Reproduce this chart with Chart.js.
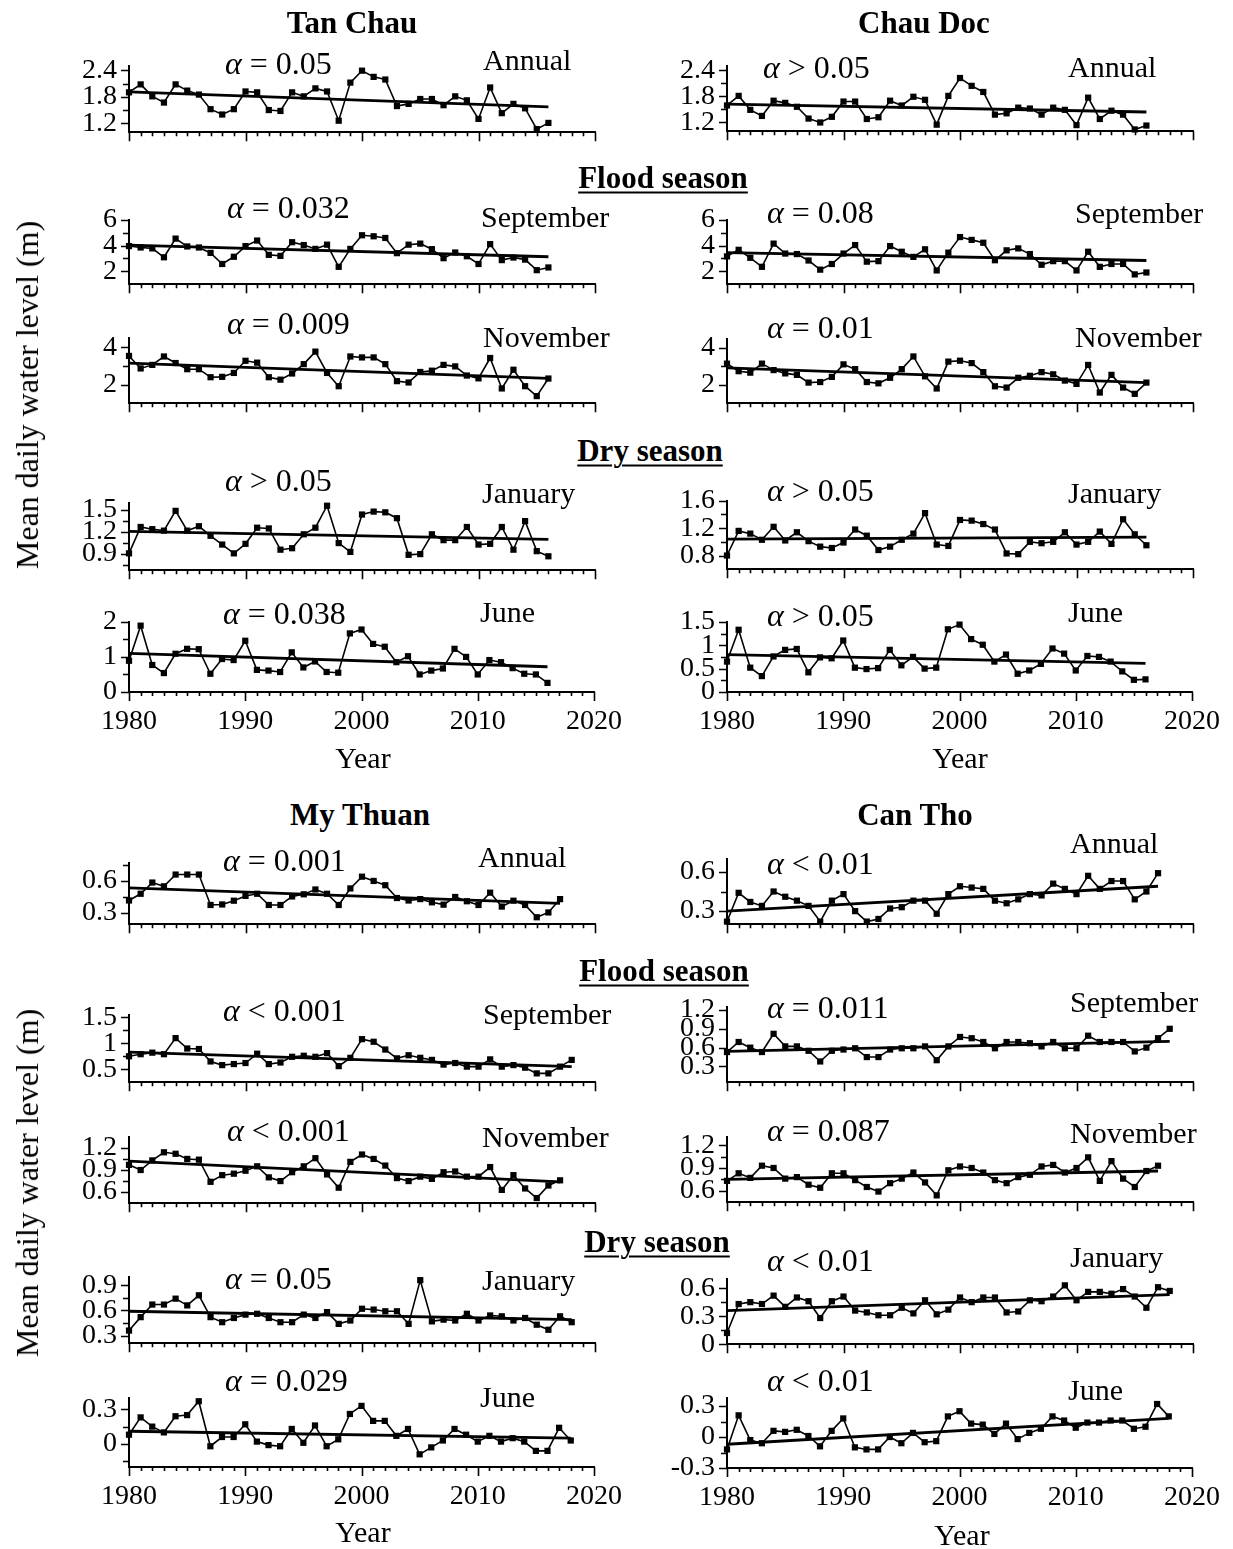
<!DOCTYPE html>
<html><head><meta charset="utf-8">
<script src="https://cdn.jsdelivr.net/npm/chart.js@4.4.1/dist/chart.umd.min.js"></script>
<style>
body{margin:0;background:#fff;}
#fig{position:relative;width:1233px;height:1549px;overflow:hidden;font-family:"Liberation Serif","Times New Roman",serif;color:#000;background:#fff;}
.t{position:absolute;white-space:nowrap;line-height:1;}
.c{transform:translate(-50%,-50%);}
.l{transform:translateY(-50%);}
.b{font-weight:bold;font-size:31px;}
.u{text-decoration:underline;text-decoration-thickness:2px;text-underline-offset:4px;}
.a{font-size:32px;}
.m{font-size:30px;}
.yt{font-size:32px;}
canvas{position:absolute;}
</style></head><body><div id="fig"></div>
<script>
// ---------- data ----------
const YEARS = [1980,1981,1982,1983,1984,1985,1986,1987,1988,1989,1990,1991,1992,1993,1994,1995,1996,1997,1998,1999,2000,2001,2002,2003,2004,2005,2006,2007,2008,2009,2010,2011,2012,2013,2014,2015,2016,2017,2018];
const X_TICKS = [1980,1981,1982,1983,1984,1985,1986,1987,1988,1989,1990,1991,1992,1993,1994,1995,1996,1997,1998,1999,2000,2001,2002,2003,2004,2005,2006,2007,2008,2009,2010,2011,2012,2013,2014,2015,2016,2017,2018,2019,2020];

const tanChauAnnual = [1.90,2.08,1.81,1.67,2.08,1.94,1.85,1.52,1.40,1.52, 1.92,1.90,1.50,1.48,1.90,1.81,1.99,1.92,1.26,2.12, 2.39,2.25,2.19,1.59,1.64,1.75,1.75,1.61,1.81,1.72, 1.30,2.01,1.43,1.64,1.54,1.07,1.21];
const tanChauSep    = [3.96,3.85,3.78,3.09,4.54,3.93,3.85,3.43,2.57,3.13, 3.96,4.39,3.28,3.20,4.26,4.04,3.74,4.07,2.35,3.74, 4.80,4.72,4.59,3.41,4.07,4.15,3.72,3.02,3.46,3.17, 2.57,4.11,2.87,3.07,2.91,2.09,2.30];
const tanChauNov    = [3.53,2.86,3.05,3.50,3.15,2.82,2.82,2.39,2.41,2.62, 3.27,3.17,2.39,2.26,2.59,3.09,3.76,2.62,1.91,3.50, 3.45,3.45,3.09,2.18,2.11,2.67,2.74,3.05,2.97,2.48, 2.33,3.42,1.79,2.79,1.91,1.38,2.32];
const tanChauJan    = [0.91,1.27,1.24,1.22,1.49,1.22,1.28,1.15,1.03,0.91, 1.04,1.26,1.25,0.96,0.98,1.17,1.26,1.56,1.05,0.93, 1.44,1.48,1.47,1.39,0.89,0.90,1.17,1.09,1.09,1.27, 1.03,1.04,1.27,0.96,1.35,0.94,0.87];
const tanChauJun    = [0.89,1.89,0.77,0.54,1.09,1.23,1.22,0.52,0.94,0.91, 1.46,0.63,0.61,0.57,1.13,0.70,0.87,0.57,0.55,1.67, 1.78,1.37,1.29,0.85,1.02,0.50,0.61,0.67,1.23,1.00, 0.50,0.91,0.85,0.68,0.52,0.50,0.26];

const chauDocAnnual = [1.59,1.81,1.49,1.35,1.70,1.65,1.56,1.29,1.20,1.33, 1.68,1.68,1.28,1.32,1.70,1.59,1.79,1.72,1.15,1.81, 2.22,2.04,1.90,1.38,1.41,1.54,1.52,1.38,1.54,1.49, 1.14,1.77,1.28,1.47,1.38,1.04,1.13];
const chauDocSep    = [3.16,3.67,3.05,2.35,4.15,3.38,3.34,2.84,2.13,2.57, 3.38,4.04,2.75,2.79,3.96,3.52,3.12,3.71,2.07,3.45, 4.66,4.44,4.22,2.86,3.63,3.78,3.34,2.51,2.79,2.79, 2.07,3.52,2.35,2.57,2.57,1.76,1.91];
const chauDocNov    = [3.15,2.74,2.66,3.15,2.80,2.62,2.54,2.12,2.15,2.43, 3.11,2.85,2.15,2.08,2.38,2.85,3.54,2.46,1.80,3.26, 3.31,3.18,2.69,1.92,1.85,2.38,2.49,2.69,2.57,2.23, 2.05,3.08,1.58,2.54,1.85,1.51,2.12];
const chauDocJan    = [0.80,1.16,1.12,1.03,1.22,1.02,1.14,1.01,0.93,0.91, 0.99,1.18,1.09,0.88,0.93,1.03,1.12,1.42,0.96,0.94, 1.32,1.31,1.26,1.18,0.83,0.82,1.00,0.98,1.00,1.14, 0.96,1.00,1.15,0.97,1.33,1.11,0.95];
const chauDocJun    = [0.65,1.33,0.52,0.34,0.76,0.90,0.92,0.42,0.74,0.72, 1.10,0.52,0.49,0.51,0.90,0.57,0.75,0.50,0.52,1.34, 1.44,1.13,1.01,0.65,0.80,0.39,0.46,0.60,0.93,0.82, 0.46,0.77,0.75,0.65,0.44,0.26,0.27];

const myThuanAnnual = [0.417,0.48,0.585,0.55,0.66,0.66,0.66,0.375,0.38,0.415, 0.46,0.48,0.375,0.375,0.455,0.475,0.52,0.48,0.375,0.53, 0.64,0.60,0.56,0.44,0.417,0.43,0.40,0.378,0.45,0.41, 0.375,0.49,0.36,0.415,0.375,0.26,0.305,0.43];
const myThuanSep    = [0.75,0.79,0.82,0.79,1.10,0.90,0.89,0.65,0.58,0.60, 0.62,0.80,0.60,0.63,0.74,0.76,0.74,0.81,0.56,0.72, 1.08,1.03,0.88,0.71,0.77,0.72,0.68,0.59,0.62,0.55, 0.55,0.69,0.55,0.58,0.53,0.42,0.42,0.55,0.68];
const myThuanNov    = [0.97,0.90,1.03,1.14,1.12,1.05,1.04,0.74,0.83,0.85, 0.89,0.95,0.80,0.75,0.87,0.95,1.06,0.84,0.66,1.01, 1.11,1.05,0.96,0.79,0.75,0.81,0.78,0.87,0.88,0.81, 0.81,0.94,0.63,0.83,0.65,0.52,0.69,0.76];
const myThuanJan    = [0.36,0.52,0.67,0.67,0.74,0.66,0.78,0.52,0.46,0.51, 0.55,0.56,0.51,0.46,0.46,0.55,0.51,0.58,0.44,0.48, 0.62,0.61,0.59,0.59,0.44,0.96,0.47,0.49,0.48,0.56, 0.48,0.54,0.53,0.48,0.51,0.43,0.37,0.53,0.46];
const myThuanJun    = [0.08,0.23,0.15,0.10,0.24,0.25,0.37,-0.02,0.06,0.06, 0.17,0.02,-0.01,-0.02,0.13,0.01,0.16,-0.02,0.04,0.26, 0.33,0.20,0.20,0.07,0.13,-0.09,-0.03,0.03,0.13,0.08, 0.02,0.07,0.02,0.05,0.02,-0.06,-0.06,0.14,0.03];

const canThoAnnual  = [0.22,0.44,0.37,0.34,0.45,0.41,0.38,0.34,0.22,0.38, 0.43,0.30,0.22,0.24,0.32,0.33,0.38,0.38,0.28,0.43, 0.49,0.48,0.47,0.38,0.36,0.39,0.43,0.42,0.51,0.47, 0.43,0.57,0.47,0.53,0.53,0.39,0.45,0.59];
const canThoSep     = [0.53,0.69,0.60,0.53,0.82,0.62,0.62,0.55,0.38,0.55, 0.57,0.59,0.45,0.45,0.57,0.59,0.59,0.62,0.40,0.62, 0.77,0.75,0.69,0.59,0.69,0.69,0.67,0.62,0.69,0.59, 0.59,0.79,0.69,0.69,0.69,0.54,0.60,0.75,0.90];
const canThoNov     = [0.73,0.83,0.77,0.93,0.90,0.76,0.78,0.68,0.64,0.83, 0.83,0.74,0.65,0.59,0.70,0.76,0.84,0.71,0.54,0.87, 0.92,0.90,0.84,0.74,0.70,0.78,0.81,0.92,0.94,0.84, 0.90,1.04,0.73,0.99,0.76,0.65,0.86,0.93];
const canThoJan     = [0.12,0.43,0.45,0.43,0.52,0.40,0.50,0.46,0.28,0.46, 0.51,0.36,0.34,0.31,0.31,0.39,0.33,0.47,0.32,0.37, 0.50,0.45,0.50,0.50,0.34,0.35,0.47,0.46,0.51,0.63, 0.47,0.56,0.56,0.54,0.59,0.51,0.39,0.61,0.57];
const canThoJun     = [-0.12,0.21,-0.03,-0.06,0.06,0.05,0.07,0.01,-0.09,0.06, 0.18,-0.10,-0.12,-0.12,0.00,-0.06,0.04,-0.05,-0.04,0.20, 0.25,0.13,0.12,0.03,0.13,-0.02,0.04,0.08,0.20,0.16, 0.09,0.14,0.14,0.16,0.16,0.08,0.10,0.32,0.20];

// trend lines: [value at first year, value at last year]
const tanChauTrends = {annual:[1.91,1.57], sep:[4.04,3.13], nov:[3.15,2.33], jan:[1.21,1.10], jun:[1.10,0.72]};
const chauDocTrends = {annual:[1.62,1.44], sep:[3.45,2.84], nov:[2.92,2.12], jan:[1.04,1.07], jun:[0.80,0.61]};
const myThuanTrends = {annual:[0.535,0.39], sep:[0.83,0.55], nov:[1.02,0.74], jan:[0.59,0.49], jun:[0.11,0.05]};
const canThoTrends  = {annual:[0.30,0.49], sep:[0.54,0.70], nov:[0.75,0.86], jan:[0.36,0.53], jun:[-0.07,0.18]};

// significance labels
const tanChauAlpha = ['= 0.05','= 0.032','= 0.009','> 0.05','= 0.038'];
const chauDocAlpha = ['> 0.05','= 0.08','= 0.01','> 0.05','> 0.05'];
const myThuanAlpha = ['= 0.001','< 0.001','< 0.001','= 0.05','= 0.029'];
const canThoAlpha  = ['< 0.01','= 0.011','= 0.087','< 0.01','< 0.01'];
const periods = ['Annual','September','November','January','June'];

// y-axis ticks / labels
const tk = {
  tcA:[[1.2,1.5,1.8,2.1,2.4],['1.2','','1.8','','2.4']],
  sep6:[[2,3,4,5,6],['2','','4','','6']],
  nov4:[[2,3,4],['2','','4']],
  tcJ:[[0.75,0.9,1.05,1.2,1.35,1.5],['','0.9','','1.2','','1.5']],
  tcJun:[[0,0.5,1,1.5,2],['0','','1','','2']],
  cdJ:[[0.8,1.0,1.2,1.4,1.6],['0.8','','1.2','','1.6']],
  cdJun:[[0,0.25,0.5,0.75,1,1.25,1.5],['0','','0.5','','1','','1.5']],
  mtA:[[0.3,0.45,0.6,0.75],['0.3','','0.6','']],
  mtS:[[0.5,0.75,1,1.25,1.5],['0.5','','1','','1.5']],
  mtN:[[0.6,0.75,0.9,1.05,1.2],['0.6','','0.9','','1.2']],
  mtJ:[[0.3,0.45,0.6,0.75,0.9],['0.3','','0.6','','0.9']],
  mtJun:[[-0.15,0,0.15,0.3],['','0','','0.3']],
  ctA:[[0.3,0.45,0.6],['0.3','','0.6']],
  ctS:[[0.3,0.6,0.9,1.2],['0.3','0.6','0.9','1.2']],
  ctN:[[0.6,0.75,0.9,1.05,1.2],['0.6','','0.9','','1.2']],
  ctJ:[[0,0.15,0.3,0.45,0.6],['0','','0.3','','0.6']],
  ctJun:[[-0.3,-0.15,0,0.15,0.3],['-0.3','','0','','0.3']]
};

// ---------- layout ----------
const FONT = '"Liberation Serif", "Times New Roman", serif';
const L = [129, 595], R = [727, 1193];
const YW = 92, PT = 22, PR = 40;
const fig = document.getElementById('fig');

const panels = [
  {col:L, top:59,  bottom:137, y:[1.0,2.5],  t:tk.tcA,   v:tanChauAnnual, tr:tanChauTrends.annual},
  {col:L, top:213, bottom:289, y:[1,6],      t:tk.sep6,  v:tanChauSep,    tr:tanChauTrends.sep},
  {col:L, top:331, bottom:408, y:[1,4.5],    t:tk.nov4,  v:tanChauNov,    tr:tanChauTrends.nov},
  {col:L, top:496, bottom:575, y:[0.68,1.6], t:tk.tcJ,   v:tanChauJan,    tr:tanChauTrends.jan},
  {col:L, top:615, bottom:692, y:[0,2],      t:tk.tcJun, v:tanChauJun,    tr:tanChauTrends.jun, showX:true},
  {col:R, top:59,  bottom:136, y:[1.0,2.5],  t:tk.tcA,   v:chauDocAnnual, tr:chauDocTrends.annual},
  {col:R, top:213, bottom:289, y:[1,6],      t:tk.sep6,  v:chauDocSep,    tr:chauDocTrends.sep},
  {col:R, top:332, bottom:408, y:[1,4.5],    t:tk.nov4,  v:chauDocNov,    tr:chauDocTrends.nov},
  {col:R, top:494, bottom:574, y:[0.6,1.6],  t:tk.cdJ,   v:chauDocJan,    tr:chauDocTrends.jan},
  {col:R, top:615, bottom:692, y:[0,1.5],    t:tk.cdJun, v:chauDocJun,    tr:chauDocTrends.jun, showX:true},
  {col:L, top:856, bottom:929, y:[0.195,0.77], t:tk.mtA, v:myThuanAnnual, tr:myThuanTrends.annual},
  {col:L, top:1008,bottom:1087,y:[0.25,1.55], t:tk.mtS,  v:myThuanSep,    tr:myThuanTrends.sep},
  {col:L, top:1130,bottom:1208,y:[0.45,1.35], t:tk.mtN,  v:myThuanNov,    tr:myThuanTrends.nov},
  {col:L, top:1270,bottom:1348,y:[0.21,1.0],  t:tk.mtJ,  v:myThuanJan,    tr:myThuanTrends.jan},
  {col:L, top:1391,bottom:1467,y:[-0.2,0.4],  t:tk.mtJun,v:myThuanJun,    tr:myThuanTrends.jun, showX:true},
  {col:R, top:852, bottom:929, y:[0.2,0.7],   t:tk.ctA,  v:canThoAnnual,  tr:canThoTrends.annual},
  {col:R, top:1000,bottom:1087,y:[0.05,1.25], t:tk.ctS,  v:canThoSep,     tr:canThoTrends.sep},
  {col:R, top:1130,bottom:1207,y:[0.45,1.31], t:tk.ctN,  v:canThoNov,     tr:canThoTrends.nov},
  {col:R, top:1272,bottom:1349,y:[0,0.7],     t:tk.ctJ,  v:canThoJan,     tr:canThoTrends.jan},
  {col:R, top:1391,bottom:1468,y:[-0.3,0.38], t:tk.ctJun,v:canThoJun,     tr:canThoTrends.jun, showX:true}
];

function tickMarks(labels){
  return {
    id:'tickMarks',
    afterDraw(chart){
      const {ctx, chartArea:a, scales:{x, y}} = chart;
      ctx.save();
      ctx.strokeStyle = '#000'; ctx.lineWidth = 1.6;
      ctx.beginPath();
      X_TICKS.forEach(v => {
        const px = Math.round(x.getPixelForValue(v)) + 0.5;
        const len = v % 10 === 0 ? 9 : 4;
        ctx.moveTo(px, a.bottom); ctx.lineTo(px, a.bottom + len);
      });
      y.ticks.forEach((t, i) => {
        const py = Math.round(y.getPixelForValue(t.value)) + 0.5;
        const len = labels[i] ? 8 : 6;
        ctx.moveTo(a.left, py); ctx.lineTo(a.left - len, py);
      });
      ctx.stroke();
      ctx.restore();
    }
  };
}

function makePanel(p){
  const plotW = p.col[1] - p.col[0], plotH = p.bottom - p.top;
  const XH = p.showX ? 62 : 24;
  const w = YW + plotW + PR, h = PT + plotH + XH;
  const c = document.createElement('canvas');
  c.width = w; c.height = h;
  c.style.left = (p.col[0] - YW) + 'px';
  c.style.top = (p.top - PT) + 'px';
  c.style.width = w + 'px'; c.style.height = h + 'px';
  fig.appendChild(c);
  const yrs = YEARS.slice(0, p.v.length);
  const pts = p.v.map((val, i) => ({x: yrs[i], y: val}));
  const trend = [{x: yrs[0], y: p.tr[0]}, {x: yrs[yrs.length - 1], y: p.tr[1]}];
  const [yt, yl] = p.t;
  new Chart(c, {
    type: 'line',
    data: {datasets: [
      {data: pts, borderColor: '#000', borderWidth: 1.6, tension: 0, pointStyle: 'rect', pointRadius: 4.4,
       pointBackgroundColor: '#000', pointBorderColor: '#000', pointBorderWidth: 0, clip: false},
      {data: trend, borderColor: '#000', borderWidth: 2.8, pointRadius: 0, tension: 0, clip: false}
    ]},
    options: {
      responsive: false, animation: false, devicePixelRatio: 1,
      layout: {autoPadding: false, padding: {top: PT, right: PR, left: 0, bottom: 0}},
      plugins: {legend: {display: false}, tooltip: {enabled: false}},
      scales: {
        x: {type: 'linear', min: 1980, max: 2020, position: 'bottom',
            afterBuildTicks: s => { s.ticks = X_TICKS.map(v => ({value: v})); },
            afterFit: s => { s.height = XH; },
            grid: {display: false, drawTicks: false},
            border: {display: true, color: '#000', width: 2},
            ticks: {autoSkip: false, maxRotation: 0, minRotation: 0, padding: 13, color: '#000',
                    font: {family: FONT, size: 28},
                    callback: v => (p.showX && v % 10 === 0) ? String(v) : ''}},
        y: {type: 'linear', min: p.y[0], max: p.y[1], position: 'left',
            afterBuildTicks: s => { s.ticks = yt.map(v => ({value: v})); },
            afterFit: s => { s.width = YW; },
            grid: {display: false, drawTicks: false},
            border: {display: true, color: '#000', width: 2},
            ticks: {autoSkip: false, padding: 12, color: '#000', font: {family: FONT, size: 28},
                    callback: (v, i) => yl[i]}}
      }
    },
    plugins: [tickMarks(yl)]
  });
}
panels.forEach(makePanel);

// ---------- text ----------
function txt(html, x, y, cls, extra){
  const d = document.createElement('div');
  d.className = 't ' + cls;
  d.innerHTML = html;
  d.style.left = x + 'px'; d.style.top = y + 'px';
  if (extra) d.style.cssText += extra;
  fig.appendChild(d);
}
txt('Tan Chau', 352, 22, 'c b');
txt('Chau Doc', 924, 22, 'c b');
txt('My Thuan', 360, 814, 'c b');
txt('Can Tho', 915, 814, 'c b');
txt('Flood season', 663, 177, 'c b u');
txt('Dry season', 650, 450, 'c b u');
txt('Flood season', 664, 970, 'c b u');
txt('Dry season', 657, 1241, 'c b u');
txt('Year', 363, 758, 'c m');
txt('Year', 960, 758, 'c m');
txt('Year', 363, 1532, 'c m');
txt('Year', 962, 1535, 'c m');
txt('Mean daily water level (m)', 27, 395, 'yt', 'transform:translate(-50%,-50%) rotate(-90deg);');
txt('Mean daily water level (m)', 27, 1183, 'yt', 'transform:translate(-50%,-50%) rotate(-90deg);');

const alphaPos = {
  tc: [[225,63],[227,207],[227,323],[225,480],[223,613]],
  cd: [[763,67],[767,212],[767,327],[767,490],[767,615]],
  mt: [[223,860],[223,1010],[227,1130],[225,1278],[225,1380]],
  ct: [[767,863],[767,1007],[767,1130],[767,1260],[767,1380]]
};
const periodPos = {
  tc: [[483,60],[481,217],[483,337],[482,493],[480,612]],
  cd: [[1068,67],[1075,213],[1075,337],[1068,493],[1068,612]],
  mt: [[478,857],[483,1014],[482,1137],[482,1280],[480,1397]],
  ct: [[1070,843],[1070,1002],[1070,1133],[1070,1257],[1068,1390]]
};
const alphaTxt = {tc: tanChauAlpha, cd: chauDocAlpha, mt: myThuanAlpha, ct: canThoAlpha};
Object.keys(alphaPos).forEach(k => {
  alphaPos[k].forEach((pos, i) => {
    const s = alphaTxt[k][i].replace('<','&lt;').replace('>','&gt;');
    txt('<i>α</i> ' + s, pos[0], pos[1], 'l a');
  });
  periodPos[k].forEach((pos, i) => txt(periods[i], pos[0], pos[1], 'l m'));
});
</script></body></html>
